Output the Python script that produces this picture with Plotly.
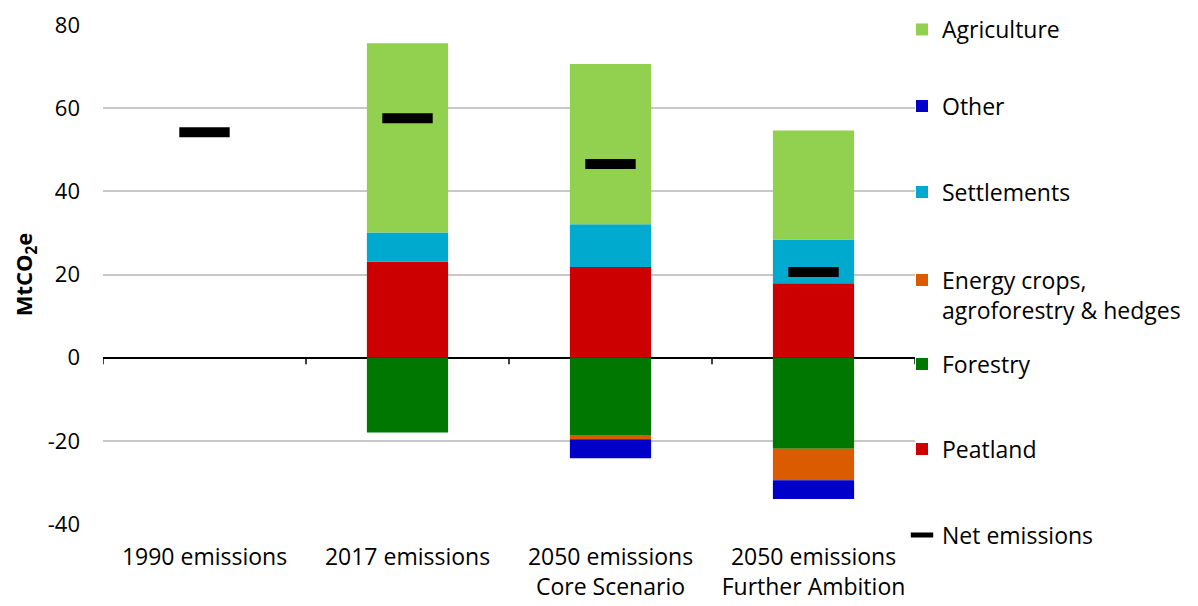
import plotly.graph_objects as go

categories = ["1990 emissions", "2017 emissions", "2050 emissions<br>Core Scenario", "2050 emissions<br>Further Ambition"]
peatland = [0, 23.1, 21.8, 17.9]
settlements = [0, 7.0, 10.3, 10.5]
agriculture = [0, 45.5, 38.5, 26.2]
forestry = [0, -18.0, -18.8, -21.9]
energy_crops = [0, 0, -0.8, -7.6]
other = [0, 0, -4.6, -4.5]
net_emissions = [54.2, 57.6, 46.6, 20.6]
y_ticks = [-40, -20, 0, 20, 40, 60, 80]
y_tick_labels = ["-40", "-20", "0", "20", "40", "60", "80"]

series = [
    ("Peatland", peatland, "#CC0000"),
    ("Forestry", forestry, "#007700"),
    ("Energy crops,<br>agroforestry & hedges", energy_crops, "#DB5B00"),
    ("Settlements", settlements, "#00AACE"),
    ("Other", other, "#0000C8"),
    ("Agriculture", agriculture, "#92D050"),
]

# legend slot (center y in px from top of figure) for each entry
legend_slot = {
    "Agriculture": ("legend2", 12),
    "Other": ("legend3", 98),
    "Settlements": ("legend4", 184),
    "Energy crops,<br>agroforestry & hedges": ("legend5", 287),
    "Forestry": ("legend6", 356),
    "Peatland": ("legend7", 441),
    "Net emissions": ("legend8", 527),
}

FONT = "Open Sans, Noto Sans, sans-serif"
# page body has an 8px margin, so the figure is sized to end at the window edge
W = 1190
H = 598

fig = go.Figure()
for name, vals, color in series:
    fig.add_trace(go.Bar(
        x=categories, y=vals, name=name, marker=dict(color=color, line=dict(width=0)),
        width=0.4, legend=legend_slot[name][0],
    ))

fig.add_trace(go.Scatter(
    x=categories, y=net_emissions, mode="markers", name="Net emissions",
    marker=dict(symbol="line-ew", size=36, line=dict(color="black", width=10)),
    legend=legend_slot["Net emissions"][0],
))

# small divider ticks on the zero line between categories
for b in range(len(categories) + 1):
    fig.add_shape(type="line", xref="x", yref="y", x0=b - 0.5, x1=b - 0.5, y0=0, y1=-1.6,
                  line=dict(color="black", width=1.5))

layout_legends = {}
for name, (key, yc) in legend_slot.items():
    layout_legends[key] = dict(
        xref="container", yref="container", x=894 / W, y=1 - yc / H,
        xanchor="left", yanchor="middle", bgcolor="rgba(0,0,0,0)",
        font=dict(family=FONT, size=23, color="black"),
        valign="top", itemwidth=30,
    )
# top entry: anchor its box at the top edge so it stays inside the figure
layout_legends["legend2"].update(y=1.0, yanchor="top")

fig.update_layout(
    width=W, height=H,
    margin=dict(l=95, r=283, t=17, b=82, autoexpand=False),
    paper_bgcolor="white", plot_bgcolor="white",
    barmode="relative",
    bargap=0.6,
    font=dict(family=FONT, size=22, color="black"),
    **layout_legends,
    xaxis=dict(
        type="category", range=[-0.5, 3.5], showgrid=False, showline=False,
        ticks="", tickfont=dict(family=FONT, size=23, color="black"),
        ticklabelstandoff=17, automargin=False,
    ),
    yaxis=dict(
        range=[-40, 80], tickvals=y_ticks, ticktext=y_tick_labels,
        showgrid=True, gridcolor="#C8C8C8", gridwidth=1.5,
        zeroline=True, zerolinecolor="black", zerolinewidth=2,
        showline=False, ticks="", ticklabelstandoff=22, automargin=False,
        tickfont=dict(family=FONT, size=22, color="black"),
        title=dict(text="<b>MtCO<sub>2</sub>e</b>", font=dict(family=FONT, size=22, color="black"), standoff=12),
    ),
)

fig.write_html("out.html")
